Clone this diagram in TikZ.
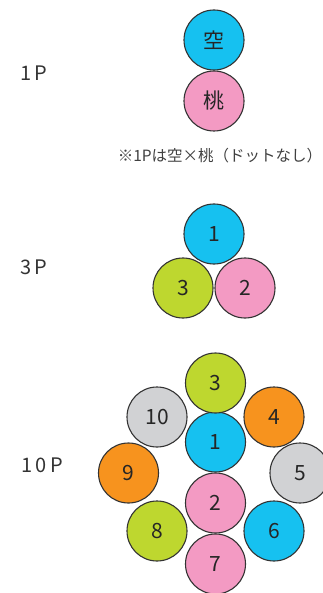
\documentclass[tikz,border=0pt]{standalone}
\usepackage{fontspec}
\setmainfont{Noto Sans CJK JP}
\usetikzlibrary{positioning}

\definecolor{sora}{HTML}{16C1F0}
\definecolor{momo}{HTML}{F39AC3}
\definecolor{kimidori}{HTML}{BED72F}
\definecolor{daidai}{HTML}{F7931E}
\definecolor{hai}{HTML}{D1D2D4}

\begin{document}
\begin{tikzpicture}[x=1pt,y=-1pt,node distance=61pt,
  ball/.style={circle,draw=black!80,line width=1.1pt,minimum size=60pt,inner sep=0pt,font=\fontsize{21}{21}\selectfont,text=black!85},
  lbl/.style={font=\fontsize{20}{20}\selectfont,text=black!80,anchor=west}]

            \useasboundingbox (0,0) rectangle (323,593);

            % 1P
            \node[lbl] (p1) at (17,73) {1\,P};
            \node[ball, fill=sora] (a1) at (214,40) {空};
            \node[ball, fill=momo] (a2) [below of = a1] {桃};
            \node[font=\fontsize{15.5}{15.5}\selectfont,text=black!75] (note) at (220,156) {※1Pは空×桃（ドットなし）};

            % 3P
            \node[lbl] (p3) at (17,267) {3\,P};
            \node[ball, fill=sora] (b1) at (214,234) {1};
            \node[ball, fill=momo] (b2) at (245,288) {2};
            \node[ball, fill=kimidori] (b3) at (183,288) {3};

            % 10P
            \node[lbl] (p10) at (18,465) {1\,0\,P};
            \node[ball, fill=sora] (c1) at (215.5,442) {1};
            \node[ball, fill=momo] (c2) [below of = c1] {2};
            \node[ball, fill=kimidori] (c3) [above of = c1, yshift=-2pt] {3};
            \node[ball, fill=daidai] (c4) at (274,417) {4};
            \node[ball, fill=hai] (c5) at (300,473) {5};
            \node[ball, fill=sora] (c6) at (274,531) {6};
            \node[ball, fill=momo] (c7) [below of = c2] {7};
            \node[ball, fill=kimidori] (c8) at (157,531) {8};
            \node[ball, fill=daidai] (c9) at (128.5,473) {9};
            \node[ball, fill=hai] (c10) at (157,417) {10};

        \end{tikzpicture}
\end{document}
